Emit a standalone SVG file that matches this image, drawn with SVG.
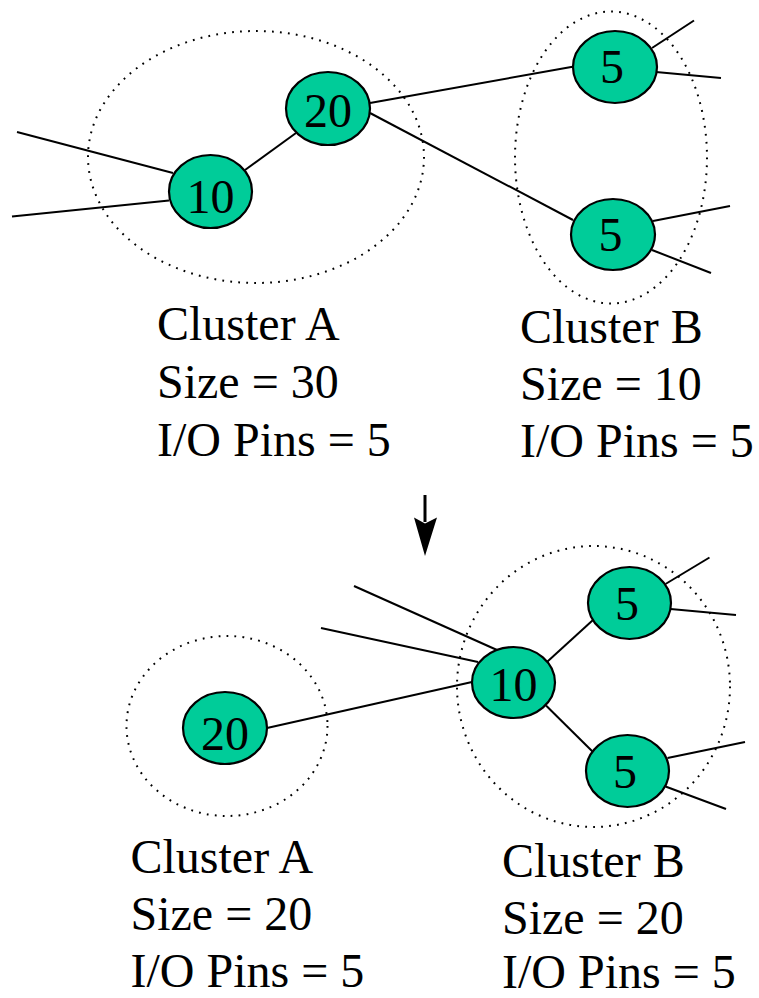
<svg xmlns="http://www.w3.org/2000/svg" width="759" height="998" viewBox="0 0 759 998">
  <rect width="759" height="998" fill="#fff"/>

  <!-- cluster boundaries (dotted) -->
  <g id="clusters" fill="none" stroke="#000" stroke-width="2" stroke-dasharray="1.8 6.2">
    <ellipse cx="256" cy="157" rx="168" ry="126"/>
    <ellipse cx="611" cy="157.5" rx="96" ry="146"/>
    <ellipse cx="227" cy="726" rx="100.5" ry="90"/>
    <ellipse cx="593.5" cy="686.5" rx="136.5" ry="140.5"/>
  </g>

  <!-- nets -->
  <g id="connectors" stroke="#000" stroke-width="2" fill="none">
    <!-- before -->
    <line x1="17" y1="132" x2="173" y2="173"/>
    <line x1="12" y1="216.5" x2="169" y2="200.5"/>
    <line x1="245" y1="170" x2="296" y2="133"/>
    <line x1="370" y1="103" x2="574" y2="66.5"/>
    <line x1="370" y1="113" x2="573" y2="220"/>
    <line x1="652" y1="48" x2="694" y2="20.5"/>
    <line x1="656" y1="72" x2="721" y2="78"/>
    <line x1="653" y1="221" x2="730" y2="206"/>
    <line x1="652" y1="250" x2="711" y2="273"/>
    <!-- after -->
    <line x1="354" y1="586" x2="497" y2="650"/>
    <line x1="321" y1="628" x2="478" y2="662"/>
    <line x1="267" y1="728" x2="472" y2="682"/>
    <line x1="547.5" y1="661.5" x2="593" y2="620"/>
    <line x1="546" y1="705.5" x2="594" y2="753"/>
    <line x1="665.5" y1="584" x2="709.5" y2="557.5"/>
    <line x1="670.5" y1="609" x2="736" y2="615"/>
    <line x1="667.5" y1="758" x2="745" y2="742"/>
    <line x1="665.5" y1="786.5" x2="726" y2="809"/>
    <!-- transformation arrow -->
    <line x1="425" y1="495" x2="425" y2="522" stroke-width="3"/>
    <polygon points="414,517.5 425,523.5 437,517.5 425,556" fill="#000" stroke="none"/>
  </g>

  <!-- cells: number font set once on the parent -->
  <g id="nodes" font-family="Liberation Serif" font-size="48" text-anchor="middle">
    <g id="nodeA10">
      <ellipse cx="210.5" cy="191.5" rx="41.5" ry="36.5" fill="#00CC99" stroke="#000" stroke-width="2.2"/>
      <text x="210.5" y="213">10</text>
    </g>
    <g id="nodeA20">
      <ellipse cx="328" cy="108.5" rx="42" ry="36.5" fill="#00CC99" stroke="#000" stroke-width="2.2"/>
      <text x="328" y="126.5">20</text>
    </g>
    <g id="nodeB5top">
      <ellipse cx="615" cy="67" rx="42" ry="36" fill="#00CC99" stroke="#000" stroke-width="2.2"/>
      <text x="612" y="82.5">5</text>
    </g>
    <g id="nodeB5bottom">
      <ellipse cx="613" cy="234.5" rx="42" ry="35.5" fill="#00CC99" stroke="#000" stroke-width="2.2"/>
      <text x="610.5" y="250.5">5</text>
    </g>
    <g id="nodeA20after">
      <ellipse cx="225" cy="728" rx="42" ry="36" fill="#00CC99" stroke="#000" stroke-width="2.2"/>
      <text x="225" y="750">20</text>
    </g>
    <g id="nodeB10after">
      <ellipse cx="513.5" cy="682.5" rx="41.5" ry="35.5" fill="#00CC99" stroke="#000" stroke-width="2.2"/>
      <text x="513.5" y="700.5">10</text>
    </g>
    <g id="nodeB5topAfter">
      <ellipse cx="629.5" cy="603" rx="41.5" ry="36" fill="#00CC99" stroke="#000" stroke-width="2.2"/>
      <text x="627" y="620">5</text>
    </g>
    <g id="nodeB5bottomAfter">
      <ellipse cx="627.5" cy="771" rx="41.5" ry="36" fill="#00CC99" stroke="#000" stroke-width="2.2"/>
      <text x="625" y="788">5</text>
    </g>
  </g>

  <!-- cluster summaries -->
  <text x="157" y="340" font-size="48" font-family="Liberation Serif">Cluster A</text>
  <text x="157" y="398" font-size="48" font-family="Liberation Serif">Size = 30</text>
  <text x="157" y="456" font-size="48" font-family="Liberation Serif">I/O Pins = 5</text>
  <text x="520" y="343" font-size="48" font-family="Liberation Serif">Cluster B</text>
  <text x="520" y="400" font-size="48" font-family="Liberation Serif">Size = 10</text>
  <text x="520" y="457" font-size="48" font-family="Liberation Serif">I/O Pins = 5</text>
  <text x="130.5" y="873" font-size="48" font-family="Liberation Serif">Cluster A</text>
  <text x="130.5" y="930" font-size="48" font-family="Liberation Serif">Size = 20</text>
  <text x="130.5" y="987" font-size="48" font-family="Liberation Serif">I/O Pins = 5</text>
  <text x="502" y="877" font-size="48" font-family="Liberation Serif">Cluster B</text>
  <text x="502" y="934" font-size="48" font-family="Liberation Serif">Size = 20</text>
  <text x="502" y="988" font-size="48" font-family="Liberation Serif">I/O Pins = 5</text>
</svg>
